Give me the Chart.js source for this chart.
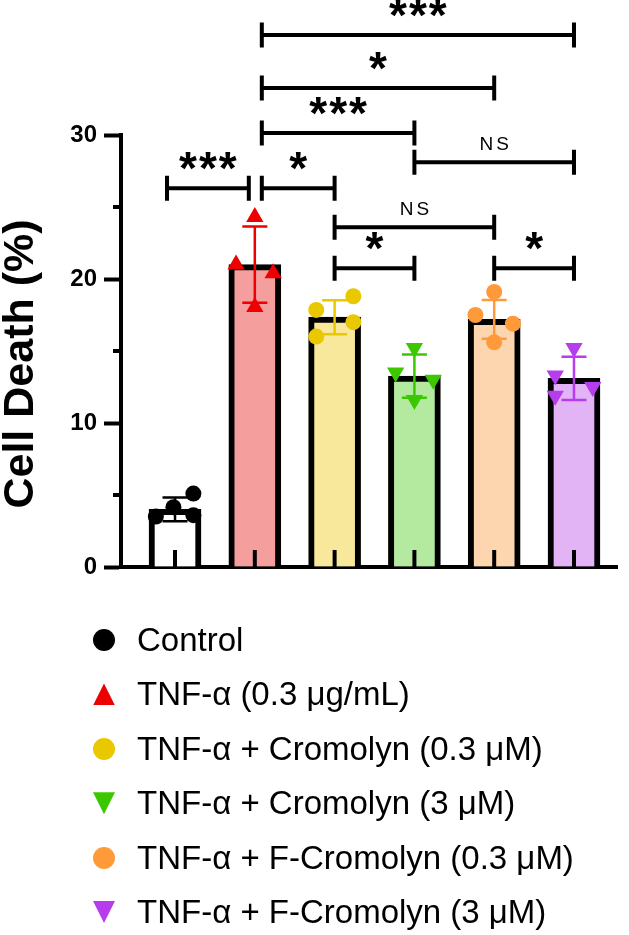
<!DOCTYPE html>
<html>
<head>
<meta charset="utf-8">
<script src="https://cdn.jsdelivr.net/npm/chart.js@4.4.1/dist/chart.umd.min.js"></script>
<style>
  html, body { margin:0; padding:0; background:#fff; width:629px; height:935px; overflow:hidden; }
  #wrap { position:absolute; left:0; top:0; width:629px; height:600px; }
  #legend { position:absolute; left:0; top:0; width:629px; height:935px; font-family:"Liberation Sans", Arial, sans-serif; color:#000; }
  .lrow { position:absolute; left:0; height:40px; width:629px; }
  .lmark { position:absolute; left:93px; width:22px; height:22px; top:9px; }
  .ltext { position:absolute; left:137px; top:0; font-size:33px; line-height:40px; white-space:nowrap; }
</style>
</head>
<body>
<div id="wrap"><canvas id="c" width="629" height="600"></canvas></div>
<div id="legend"></div>
<script>
// ---------------- data ----------------
const GROUPS = ['Control', 'TNF-α (0.3 μg/mL)', 'TNF-α + Cromolyn (0.3 μM)', 'TNF-α + Cromolyn (3 μM)', 'TNF-α + F-Cromolyn (0.3 μM)', 'TNF-α + F-Cromolyn (3 μM)'];
const MEANS = [4.0, 21.0, 17.35, 13.25, 17.2, 13.1];
const SDS = [0.83, 2.65, 1.18, 1.5, 1.35, 1.5];
const CONTROL_PTS = [5.1, 4.15, 3.5, 3.6];
const TNF_PTS = [24.3, 21.0, 20.4, 18.05];
const CROM03_PTS = [18.8, 17.85, 17.0, 16.0];
const CROM3_PTS = [15.2, 13.5, 13.0, 11.6];
const FCROM03_PTS = [19.1, 17.5, 16.9, 15.6];
const FCROM3_PTS = [15.2, 13.3, 12.5, 11.9];
const Y_TICKS = [0, 10, 20, 30];
const Y_MINOR_TICKS = [5, 15, 25];
const Y_TITLE = 'Cell Death (%)';
// comparisons: [group a, group b, label]
const COMPARISONS = [[1, 5, '***'], [1, 4, '*'], [1, 3, '***'], [3, 5, 'NS'], [0, 1, '***'], [1, 2, '*'], [2, 4, 'NS'], [2, 3, '*'], [4, 5, '*']];

// ---------------- styling / layout ----------------
const POINT_SETS = [CONTROL_PTS, TNF_PTS, CROM03_PTS, CROM3_PTS, FCROM03_PTS, FCROM3_PTS];
const POINT_COLORS = ['#000000', '#EE0000', '#EAC800', '#3CC800', '#FF9A3A', '#B63CEE'];
const BAR_FILLS = ['#FFFFFF', '#F59E9E', '#F8E89C', '#B4EAA0', '#FDD6B0', '#E2B4F6'];
const MARKERS = [
  {style:'circle', rot:0, r:8}, {style:'triangle', rot:0, r:10}, {style:'circle', rot:0, r:8},
  {style:'triangle', rot:180, r:10}, {style:'circle', rot:0, r:8}, {style:'triangle', rot:180, r:10}
];
const JITTER = [[0.23, -0.02, -0.24, 0.23], [0, -0.235, 0.23, 0], [0.235, -0.23, 0.235, -0.23],
                [0, -0.235, 0.235, 0], [0, -0.235, 0.235, 0], [0, -0.235, 0.235, -0.235]];
const BRACKET_LEVELS = [36.94, 33.26, 30.14, 28.1, 26.3, 26.3, 23.6, 20.75, 20.75];
const FONT = '"Liberation Sans", Arial, sans-serif';

const datasets = POINT_SETS.map((pts, g) => ({
  type: 'scatter',
  label: GROUPS[g],
  data: pts.map((v, k) => ({x: g + JITTER[g][k], y: v})),
  pointStyle: MARKERS[g].style,
  pointRotation: MARKERS[g].rot,
  pointRadius: MARKERS[g].r,
  pointHoverRadius: MARKERS[g].r,
  pointBackgroundColor: POINT_COLORS[g],
  pointBorderColor: POINT_COLORS[g],
  pointBorderWidth: 0,
  order: 0
}));
datasets.push({
  type: 'bar',
  label: 'Mean',
  data: MEANS.map((m, g) => ({x: g, y: m})),
  backgroundColor: BAR_FILLS,
  borderColor: '#000',
  borderWidth: 6,
  borderSkipped: 'start',
  barThickness: 52,
  order: 10
});

const annot = {
  id: 'annot',
  afterDatasetDraw(chart, args) {
    const ds = chart.data.datasets[args.index];
    if (ds.type !== 'bar') return;
    const c = chart.ctx, xs = chart.scales.x, ys = chart.scales.y;
    c.save();
    // inward category ticks on the x axis
    c.strokeStyle = '#000'; c.lineWidth = 4; c.lineCap = 'butt';
    MEANS.forEach((m, g) => {
      const x = xs.getPixelForValue(g);
      c.beginPath(); c.moveTo(x, ys.getPixelForValue(0)); c.lineTo(x, ys.getPixelForValue(0) - 17); c.stroke();
    });
    // error bars (mean ± SD)
    c.lineWidth = 2.5;
    MEANS.forEach((m, g) => {
      const x = xs.getPixelForValue(g);
      const yt = ys.getPixelForValue(m + SDS[g]), yb = ys.getPixelForValue(m - SDS[g]);
      c.strokeStyle = POINT_COLORS[g];
      c.beginPath();
      c.moveTo(x, yt); c.lineTo(x, yb);
      c.moveTo(x - 12.5, yt); c.lineTo(x + 12.5, yt);
      c.moveTo(x - 12.5, yb); c.lineTo(x + 12.5, yb);
      c.stroke();
    });
    c.restore();
  },
  afterDraw(chart) {
    const c = chart.ctx, xs = chart.scales.x, ys = chart.scales.y;
    const area = chart.chartArea;
    c.save();
    c.strokeStyle = '#000'; c.lineWidth = 4; c.lineCap = 'butt';
    // minor y ticks
    const L = area.left;
    Y_MINOR_TICKS.forEach(v => {
      const y = ys.getPixelForValue(v);
      c.beginPath(); c.moveTo(L - 8, y); c.lineTo(L, y); c.stroke();
    });
    // significance brackets
    COMPARISONS.forEach(([a, b, lab], i) => {
      const nudgeA = a === 1 ? 7 : (a === 0 ? -8 : 0);
      const nudgeB = b === 1 ? -6 : 0;
      const x1 = xs.getPixelForValue(a) + nudgeA;
      const x2 = xs.getPixelForValue(b) + nudgeB;
      const y = ys.getPixelForValue(BRACKET_LEVELS[i]);
      c.beginPath();
      c.moveTo(x1, y); c.lineTo(x2, y);
      c.moveTo(x1, y - 12.5); c.lineTo(x1, y + 12.5);
      c.moveTo(x2, y - 12.5); c.lineTo(x2, y + 12.5);
      c.stroke();
      const mx = (x1 + x2) / 2;
      c.fillStyle = '#000';
      c.textAlign = 'center';
      c.textBaseline = 'alphabetic';
      if (lab === 'NS') {
        c.font = '19px ' + FONT;
        c.letterSpacing = '3px';
        c.fillText(lab, mx + 1.5, y - 12);
      } else {
        c.font = 'bold 46px ' + FONT;
        c.letterSpacing = '2px';
        c.fillText(lab, mx + 1, y - 4);
      }
      c.letterSpacing = '0px';
    });
    // y-axis title
    c.translate(21, (area.top + area.bottom) / 2 + 13);
    c.rotate(-Math.PI / 2);
    c.font = 'bold 43px ' + FONT;
    c.textAlign = 'center';
    c.textBaseline = 'middle';
    c.fillText(Y_TITLE, 0, 0);
    c.restore();
  }
};

new Chart(document.getElementById('c'), {
  type: 'bar',
  data: { datasets },
  options: {
    responsive: false,
    animation: false,
    events: [],
    layout: { padding: { top: 135, right: 12, bottom: 33, left: 0 } },
    plugins: { legend: { display: false }, tooltip: { enabled: false } },
    scales: {
      x: {
        type: 'linear', min: -0.677, max: 5.539, z: 1, offset: false,
        grid: { display: false, drawTicks: false, offset: false },
        ticks: { display: false },
        border: { display: true, color: '#000', width: 4 }
      },
      y: {
        type: 'linear', min: 0, max: 30,
        afterFit(s) { s.width = 121; },
        afterBuildTicks(s) { s.ticks = Y_TICKS.map(v => ({ value: v })); },
        ticks: { color: '#000', padding: 7, font: { family: FONT, size: 24, weight: 'bold' } },
        grid: { drawOnChartArea: false, drawTicks: true, tickLength: 17, tickWidth: 4, tickColor: '#000' },
        border: { display: true, color: '#000', width: 4 },
        title: { display: false, text: Y_TITLE }
      }
    }
  },
  plugins: [annot]
});

// ---------------- HTML legend built from the same arrays ----------------
const legend = document.getElementById('legend');
GROUPS.forEach((name, g) => {
  const row = document.createElement('div');
  row.className = 'lrow';
  row.style.top = (620 + g * 54.4) + 'px';
  const mk = document.createElement('div');
  mk.className = 'lmark';
  mk.style.background = POINT_COLORS[g];
  if (MARKERS[g].style === 'circle') mk.style.borderRadius = '50%';
  else if (MARKERS[g].rot === 0) mk.style.clipPath = 'polygon(50% 0, 100% 100%, 0 100%)';
  else mk.style.clipPath = 'polygon(0 0, 100% 0, 50% 100%)';
  const tx = document.createElement('span');
  tx.className = 'ltext';
  tx.textContent = name;
  row.appendChild(mk); row.appendChild(tx);
  legend.appendChild(row);
});
</script>
</body>
</html>
